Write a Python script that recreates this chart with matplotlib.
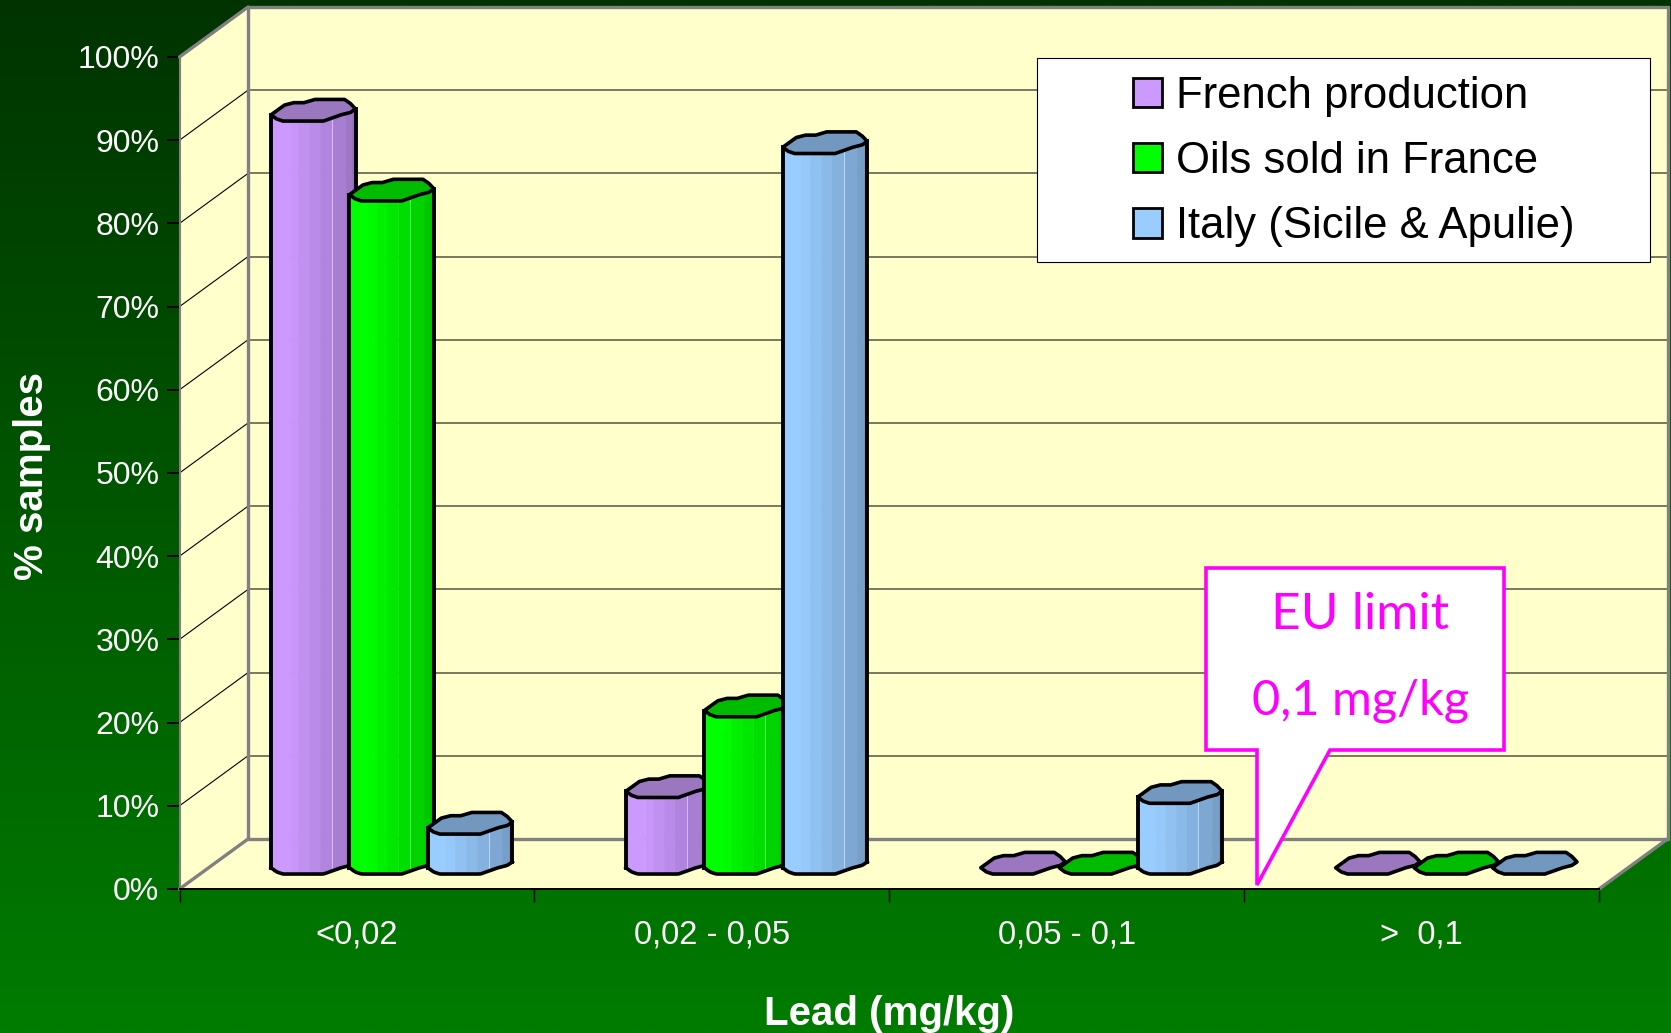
import numpy as np
import matplotlib
matplotlib.use('Agg')
import matplotlib.pyplot as plt
from matplotlib.patches import Patch, Polygon, Rectangle
from matplotlib.colors import to_rgb, LinearSegmentedColormap

plt.rcParams['font.family'] = ['Liberation Sans', 'DejaVu Sans']

# Data
categories = ['<0,02', '0,02 - 0,05', '0,05 - 0,1', '>  0,1']
series_names = ['French production', 'Oils sold in France', 'Italy (Sicile & Apulie)']
french = [90.5, 9.2, 0, 0]
oils_france = [80.9, 18.9, 0, 0]
italy = [4.8, 86.6, 8.5, 0]
y_ticks = [0, 10, 20, 30, 40, 50, 60, 70, 80, 90, 100]

# Colours
body_colors = ['#CC99FF', '#00FF00', '#99CCFF']
top_colors = ['#9B77C0', '#00BB00', '#7298C0']
cream = '#FFFFCC'
wall_edge = '#808080'

W, H = 1671, 1033
# front plane of the chart, in pixels
LEFT, RIGHT, Y0, Y100 = 179.5, 1599, 889, 57
# how far the back wall is shifted, in data units
DX = 68.5 / ((RIGHT - LEFT) / 4)
DY = 50 / ((Y0 - Y100) / 100)

# bar layout, data units
GROUP_START = 0.258
BAR_PITCH = 0.221
BAR_W = 0.238
BAR_BASE = 1.8
TOP_H = 2.6

# wobbly "cylinder" outline as the original renderer drew it
U_FRONT = [0, .065, .14, .62, .83, .94, 1]
V_FRONT = [.29, .10, 0, 0, .29, .40, .56]
U_BACK = [1, .94, .87, .52, .39, .27, .16, 0]
V_BACK = [.56, .81, 1, 1, .85, .85, .74, .29]

fig = plt.figure(figsize=(W / 100, H / 100), dpi=100)

# background gradient
bg = fig.add_axes([0, 0, 1, 1])
bg.set_xlim(0, W)
bg.set_ylim(H, 0)
bg.axis('off')
cmap = LinearSegmentedColormap.from_list('bg', ['#003300', '#007C00'])
grad = np.linspace(0, 1, 400).reshape(-1, 1)
bg.imshow(grad, cmap=cmap, extent=[0, W, H, 0], aspect='auto', zorder=0)

ax = fig.add_axes([LEFT / W, 1 - Y0 / H, (RIGHT - LEFT) / W, (Y0 - Y100) / H])
ax.patch.set_visible(False)
ax.set_xlim(0, 4)
ax.set_ylim(0, 100)


def wall(points, **kw):
    ax.add_patch(Polygon(points, closed=True, clip_on=False, **kw))


# walls and floor
wall([(DX, DY), (4 + DX, DY), (4 + DX, 100 + DY), (DX, 100 + DY)], fc=cream, ec='none', zorder=1)
wall([(0, 0), (DX, DY), (DX, 100 + DY), (0, 100)], fc=cream, ec='none', zorder=1)
wall([(0, 0), (4, 0), (4 + DX, DY), (DX, DY)], fc=cream, ec='none', zorder=1)

for v in y_ticks[1:-1]:
    ax.plot([DX, 4 + DX], [v + DY, v + DY], color='#55553F', lw=1.1, clip_on=False, zorder=2)
    ax.plot([0, DX], [v, v + DY], color='black', lw=0.8, clip_on=False, zorder=2)

for xs, ys in [([0, DX], [100, 100 + DY]), ([DX, 4 + DX], [100 + DY, 100 + DY]),
               ([DX, DX], [DY, 100 + DY]), ([4 + DX, 4 + DX], [DY, 100 + DY]),
               ([0, DX], [0, DY]), ([DX, 4 + DX], [DY, DY]), ([4, 4 + DX], [0, DY]),
               ([0, 0], [0, 100])]:
    lw = 1.5 if xs == [0, 0] else 2.4
    ax.plot(xs, ys, color=wall_edge, lw=lw, clip_on=False, zorder=2, solid_capstyle='round')


def draw_bar(left, value, body, top, z):
    if value > 0:
        # vertical shading bands, darker to the right
        edges = [0, .22, .32, .45, .58, .72, .88, .96, 1]
        base = np.array(to_rgb(body))
        for i in range(len(edges) - 1):
            uu = np.linspace(edges[i], edges[i + 1], 12)
            fr = np.interp(uu, U_FRONT, V_FRONT) * TOP_H + BAR_BASE
            shade = 1 - 0.27 * (i / (len(edges) - 2)) ** 1.3
            ax.fill_between(left + uu * BAR_W, fr, fr + value, color=base * shade, lw=0.5,
                            clip_on=False, zorder=z)
        # thin light line on the right part
        hx = left + .72 * BAR_W
        hb = np.interp(.72, U_FRONT, V_FRONT) * TOP_H + BAR_BASE
        ax.plot([hx, hx], [hb, hb + value], color=base * .7 + .3, lw=0.7, clip_on=False, zorder=z + .05)
        uu = np.linspace(0, 1, 41)
        front = np.interp(uu, U_FRONT, V_FRONT) * TOP_H + BAR_BASE
        ax.plot(left + uu * BAR_W, front, color='black', lw=2.6, clip_on=False, zorder=z + .1)
        ax.plot([left, left], [front[0], front[0] + value], color='black', lw=2.8, clip_on=False, zorder=z + .1)
        ax.plot([left + BAR_W] * 2, [front[-1], front[-1] + value], color='black', lw=2.8, clip_on=False, zorder=z + .1)
    # top cap
    u = np.array(U_FRONT + U_BACK[1:-1])
    v = np.array(V_FRONT + V_BACK[1:-1])
    pts = np.column_stack([left + u * BAR_W, BAR_BASE + value + v * TOP_H])
    ax.add_patch(Polygon(pts, closed=True, fc=top, ec='black', lw=2.6, clip_on=False, zorder=z + .2,
                         joinstyle='round'))


for g, vals in enumerate(zip(french, oils_france, italy)):
    for s, val in enumerate(vals):
        draw_bar(g + GROUP_START + s * BAR_PITCH, val, body_colors[s], top_colors[s], 3 + s)

# axes and ticks
for name, sp in ax.spines.items():
    sp.set_visible(name == 'bottom')
ax.spines['bottom'].set_color('black')
ax.spines['bottom'].set_linewidth(1.4)
ax.spines['bottom'].set_zorder(2.5)
ax.set_yticks(y_ticks)
ax.set_yticklabels([f'{v}%' for v in y_ticks], color='white', fontsize=23)
ax.set_xticks([0, 1, 2, 3, 4])
ax.set_xticklabels([])
ax.set_xticks([.5, 1.5, 2.5, 3.5], minor=True)
ax.set_xticklabels(categories, minor=True, color='white', fontsize=23.5)
ax.tick_params(axis='x', which='major', length=9.5, width=1, color='black')
ax.tick_params(axis='x', which='minor', length=0, pad=22)
ax.tick_params(axis='y', length=9.5, width=1.4, color='black', pad=5)
ax.set_xlabel('Lead (mg/kg)', color='white', fontsize=29, fontweight='bold', labelpad=32)
ax.set_ylabel('% samples', color='white', fontsize=29, fontweight='bold', labelpad=19.5, y=0.496)

# legend: white box first, frameless legend on top so the entries can sit to the right
fig.add_artist(Rectangle((1037 / W, 1 - 262 / H), (1650 - 1037) / W, (262 - 57.5) / H, transform=fig.transFigure,
                         fc='white', ec='black', lw=0.8, zorder=7))
handles = [Patch(facecolor=c, edgecolor='black', linewidth=2) for c in body_colors]
leg = fig.legend(handles, series_names, loc='center left', fontsize=31.4,
                 bbox_to_anchor=(1133 / W, 1 - 161.5 / H), bbox_transform=fig.transFigure,
                 borderaxespad=0, borderpad=0, labelspacing=0.56, handlelength=0.66, handleheight=0.66,
                 handletextpad=0.33, frameon=False, labelcolor='black')
leg.set_zorder(8)

# EU limit callout, drawn on top in pixel coordinates
over = fig.add_axes([0, 0, 1, 1])
over.set_xlim(0, W)
over.set_ylim(H, 0)
over.axis('off')
over.add_patch(Polygon([(1206, 568), (1504, 568), (1504, 750), (1330, 750), (1257, 885), (1257, 750), (1206, 750)],
                       closed=True, fc='white', ec='#FF00FF', lw=2.6))
over.text(1360, 615, 'EU limit', color='#FF00FF', fontsize=37, family='Lato', ha='center', va='center')
over.text(1360, 701, '0,1 mg/kg', color='#FF00FF', fontsize=35, family='Lato', ha='center', va='center')

fig.savefig('out.png', dpi=100)
